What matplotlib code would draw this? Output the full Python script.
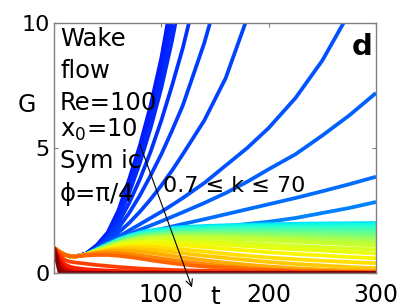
import numpy as np
import matplotlib.pyplot as plt

nan = np.nan

# time samples (same for every curve)
t = [0, 5, 10, 15, 20, 30, 40, 50, 60, 70, 80, 90, 100, 110, 120, 140, 160, 180, 200, 225, 250, 275, 300]

# growing (blue) curves, smallest k first
k_blue = [0.7, 0.72, 0.74, 0.77, 0.8, 0.84, 0.89, 0.95, 1.02, 1.1, 1.22]
G_blue = [
    [1.0, 0.85, 0.73, 0.67, 0.66, 0.78, 1.12, 1.62, 2.5, 3.75, 5.1, 6.7, 8.6, 11.0, nan, nan, nan, nan, nan, nan, nan, nan, nan],
    [1.0, 0.85, 0.73, 0.67, 0.66, 0.77, 1.10, 1.57, 2.4, 3.55, 4.85, 6.4, 8.2, 10.5, nan, nan, nan, nan, nan, nan, nan, nan, nan],
    [1.0, 0.85, 0.73, 0.67, 0.66, 0.77, 1.08, 1.52, 2.3, 3.4, 4.6, 6.0, 7.8, 10.0, 12.5, nan, nan, nan, nan, nan, nan, nan, nan],
    [1.0, 0.85, 0.73, 0.67, 0.66, 0.76, 1.06, 1.48, 2.2, 3.2, 4.4, 5.8, 7.4, 9.3, 11.5, nan, nan, nan, nan, nan, nan, nan, nan],
    [1.0, 0.85, 0.73, 0.67, 0.66, 0.76, 1.04, 1.42, 2.0, 2.8, 3.75, 4.85, 6.1, 7.5, 9.0, 12.5, nan, nan, nan, nan, nan, nan, nan],
    [1.0, 0.85, 0.73, 0.67, 0.66, 0.75, 1.02, 1.36, 1.8, 2.4, 3.1, 3.9, 4.75, 5.7, 6.7, 9.2, 12.2, nan, nan, nan, nan, nan, nan],
    [1.0, 0.85, 0.73, 0.67, 0.66, 0.75, 1.00, 1.30, 1.62, 2.0, 2.45, 2.95, 3.5, 4.1, 4.75, 6.1, 7.8, 10.2, 13.0, nan, nan, nan, nan],
    [1.0, 0.85, 0.73, 0.67, 0.66, 0.75, 0.98, 1.24, 1.45, 1.7, 1.95, 2.2, 2.45, 2.72, 3.0, 3.6, 4.3, 5.0, 5.8, 7.0, 8.5, 10.4, 12.6],
    [1.0, 0.85, 0.73, 0.67, 0.66, 0.74, 0.97, 1.20, 1.38, 1.56, 1.73, 1.9, 2.07, 2.25, 2.43, 2.8, 3.2, 3.65, 4.15, 4.75, 5.5, 6.3, 7.2],
    [1.0, 0.85, 0.73, 0.67, 0.66, 0.74, 0.96, 1.17, 1.32, 1.45, 1.56, 1.66, 1.76, 1.86, 1.96, 2.15, 2.35, 2.55, 2.75, 3.0, 3.27, 3.55, 3.85],
    [1.0, 0.85, 0.73, 0.67, 0.66, 0.74, 0.95, 1.15, 1.28, 1.37, 1.45, 1.51, 1.57, 1.62, 1.67, 1.77, 1.87, 1.96, 2.05, 2.2, 2.4, 2.6, 2.84],
]

# nearly flat band (cyan -> yellow-green)
k_band = [2.0, 2.3, 2.6, 2.9, 3.2, 3.6, 4.0, 4.4, 4.9, 5.4, 5.9, 6.5, 7.1, 7.7]
G_band = [
    [1.0, 0.85, 0.73, 0.67, 0.66, 0.74, 0.95, 1.15, 1.35, 1.50, 1.62, 1.70, 1.76, 1.80, 1.84, 1.88, 1.91, 1.93, 1.95, 1.97, 1.98, 1.99, 2.00],
    [1.0, 0.85, 0.73, 0.67, 0.66, 0.74, 0.94, 1.14, 1.33, 1.48, 1.59, 1.67, 1.72, 1.76, 1.79, 1.83, 1.86, 1.88, 1.89, 1.91, 1.92, 1.93, 1.93],
    [1.0, 0.85, 0.73, 0.67, 0.66, 0.74, 0.94, 1.13, 1.31, 1.46, 1.56, 1.63, 1.68, 1.72, 1.75, 1.78, 1.80, 1.82, 1.83, 1.84, 1.85, 1.86, 1.86],
    [1.0, 0.85, 0.73, 0.67, 0.66, 0.74, 0.93, 1.12, 1.30, 1.44, 1.53, 1.60, 1.65, 1.68, 1.71, 1.74, 1.76, 1.77, 1.78, 1.79, 1.79, 1.79, 1.79],
    [1.0, 0.85, 0.73, 0.67, 0.66, 0.74, 0.93, 1.11, 1.28, 1.42, 1.51, 1.57, 1.62, 1.65, 1.67, 1.70, 1.72, 1.73, 1.73, 1.73, 1.73, 1.72, 1.72],
    [1.0, 0.85, 0.73, 0.67, 0.66, 0.74, 0.92, 1.10, 1.27, 1.40, 1.49, 1.55, 1.59, 1.62, 1.64, 1.66, 1.68, 1.68, 1.68, 1.68, 1.67, 1.66, 1.65],
    [1.0, 0.85, 0.73, 0.67, 0.66, 0.74, 0.92, 1.09, 1.25, 1.38, 1.47, 1.53, 1.56, 1.59, 1.61, 1.63, 1.63, 1.63, 1.63, 1.62, 1.61, 1.60, 1.58],
    [1.0, 0.85, 0.73, 0.67, 0.66, 0.74, 0.91, 1.08, 1.24, 1.36, 1.45, 1.50, 1.54, 1.56, 1.58, 1.59, 1.59, 1.59, 1.58, 1.57, 1.55, 1.53, 1.51],
    [1.0, 0.85, 0.73, 0.67, 0.66, 0.74, 0.91, 1.07, 1.22, 1.34, 1.43, 1.48, 1.51, 1.53, 1.55, 1.56, 1.55, 1.54, 1.53, 1.51, 1.49, 1.47, 1.44],
    [1.0, 0.85, 0.73, 0.67, 0.66, 0.74, 0.90, 1.06, 1.21, 1.33, 1.41, 1.46, 1.49, 1.51, 1.52, 1.52, 1.51, 1.50, 1.48, 1.46, 1.43, 1.40, 1.37],
    [1.0, 0.85, 0.73, 0.67, 0.66, 0.74, 0.90, 1.05, 1.20, 1.31, 1.39, 1.44, 1.47, 1.48, 1.49, 1.49, 1.48, 1.46, 1.44, 1.41, 1.37, 1.34, 1.30],
    [1.0, 0.85, 0.73, 0.67, 0.66, 0.74, 0.89, 1.04, 1.18, 1.29, 1.37, 1.42, 1.45, 1.46, 1.46, 1.46, 1.44, 1.42, 1.39, 1.35, 1.31, 1.27, 1.23],
    [1.0, 0.85, 0.73, 0.67, 0.66, 0.74, 0.89, 1.03, 1.17, 1.28, 1.35, 1.40, 1.42, 1.43, 1.43, 1.42, 1.40, 1.37, 1.34, 1.30, 1.25, 1.21, 1.16],
    [1.0, 0.85, 0.73, 0.67, 0.66, 0.74, 0.88, 1.02, 1.16, 1.26, 1.33, 1.38, 1.40, 1.41, 1.41, 1.39, 1.37, 1.34, 1.30, 1.25, 1.20, 1.15, 1.09],
]

# slowly decaying (yellow / orange)
k_decay = [8.5, 9.5, 10.5, 12, 13.5, 16, 20, 24]
G_decay = [
    [1.0, 0.85, 0.73, 0.67, 0.66, 0.74, 0.87, 1.00, 1.13, 1.22, 1.28, 1.31, 1.32, 1.32, 1.31, 1.28, 1.24, 1.19, 1.14, 1.08, 1.03, 0.98, 0.94],
    [1.0, 0.85, 0.73, 0.67, 0.66, 0.74, 0.86, 0.98, 1.10, 1.18, 1.23, 1.25, 1.25, 1.24, 1.22, 1.18, 1.13, 1.07, 1.01, 0.95, 0.90, 0.84, 0.78],
    [1.0, 0.85, 0.73, 0.67, 0.66, 0.74, 0.85, 0.96, 1.06, 1.12, 1.15, 1.16, 1.15, 1.13, 1.10, 1.04, 0.97, 0.90, 0.83, 0.76, 0.70, 0.64, 0.59],
    [1.0, 0.85, 0.73, 0.67, 0.66, 0.74, 0.84, 0.93, 1.01, 1.05, 1.06, 1.05, 1.02, 0.98, 0.94, 0.86, 0.77, 0.69, 0.62, 0.55, 0.49, 0.44, 0.39],
    [1.0, 0.85, 0.73, 0.67, 0.66, 0.74, 0.83, 0.90, 0.95, 0.97, 0.96, 0.93, 0.89, 0.84, 0.79, 0.69, 0.60, 0.52, 0.44, 0.36, 0.30, 0.24, 0.19],
    [1.0, 0.85, 0.73, 0.67, 0.66, 0.74, 0.82, 0.87, 0.89, 0.88, 0.85, 0.80, 0.74, 0.68, 0.62, 0.51, 0.41, 0.33, 0.26, 0.19, 0.14, 0.10, 0.08],
    [1.0, 0.85, 0.73, 0.67, 0.66, 0.73, 0.78, 0.80, 0.79, 0.75, 0.70, 0.64, 0.58, 0.52, 0.46, 0.36, 0.27, 0.20, 0.15, 0.10, 0.07, 0.05, 0.04],
    [1.0, 0.85, 0.73, 0.67, 0.66, 0.70, 0.72, 0.72, 0.69, 0.64, 0.58, 0.51, 0.45, 0.39, 0.34, 0.26, 0.20, 0.15, 0.11, 0.08, 0.06, 0.04, 0.03],
]

# fast decaying (red)
k_red = [30, 36, 43, 51, 60, 70]
G_red = [
    [1.0, 0.75, 0.52, 0.45, 0.42, 0.37, 0.32, 0.28, 0.24, 0.21, 0.18, 0.16, 0.14, 0.12, 0.11, 0.09, 0.07, 0.06, 0.05, 0.04, 0.03, 0.03, 0.02],
    [1.0, 0.60, 0.35, 0.25, 0.20, 0.15, 0.12, 0.10, 0.08, 0.07, 0.06, 0.05, 0.04, 0.03, 0.03, 0.02, 0.02, 0.01, 0.01, 0.01, 0.01, 0.0, 0.0],
    [1.0, 0.45, 0.20, 0.10, 0.06, 0.03, 0.02, 0.01, 0.01, 0.0, 0.0, 0.0, 0.0, 0.0, 0.0, 0.0, 0.0, 0.0, 0.0, 0.0, 0.0, 0.0, 0.0],
    [1.0, 0.30, 0.08, 0.03, 0.01, 0.0, 0.0, 0.0, 0.0, 0.0, 0.0, 0.0, 0.0, 0.0, 0.0, 0.0, 0.0, 0.0, 0.0, 0.0, 0.0, 0.0, 0.0],
    [1.0, 0.15, 0.02, 0.0, 0.0, 0.0, 0.0, 0.0, 0.0, 0.0, 0.0, 0.0, 0.0, 0.0, 0.0, 0.0, 0.0, 0.0, 0.0, 0.0, 0.0, 0.0, 0.0],
    [1.0, 0.05, 0.0, 0.0, 0.0, 0.0, 0.0, 0.0, 0.0, 0.0, 0.0, 0.0, 0.0, 0.0, 0.0, 0.0, 0.0, 0.0, 0.0, 0.0, 0.0, 0.0, 0.0],
]

info_lines = ["Wake", "flow", "Re=100", r"x$_0$=10", "Sym ic", "ϕ=π/4"]

fig = plt.figure(figsize=(4.15, 3.08), dpi=100)
ax = fig.add_axes([54 / 415, 35 / 308, 322 / 415, 250 / 308])

jet = plt.get_cmap('jet')
k_all = k_blue + k_band + k_decay + k_red
G_all = G_blue + G_band + G_decay + G_red
for k, G in zip(k_all, G_all):
    pos = 0.15 + 0.85 * np.log(k / 0.7) / np.log(100)
    ax.plot(t, G, color=jet(pos), lw=2.7, solid_capstyle='butt')

ax.set_xlim(0, 300)
ax.set_ylim(0, 10)
ax.set_xticks([100, 200, 300])
ax.set_yticks([0, 5, 10])
ax.tick_params(direction='in', length=3, color='#808080', top=True, right=True)
ax.tick_params(axis='y', labelsize=16, pad=3)
ax.tick_params(axis='x', labelsize=17, pad=7)
for s in ax.spines.values():
    s.set_color('#808080')
    s.set_linewidth(1.0)

# text block at left
baselines = [9.08, 7.8, 6.52, 5.44, 4.2, 2.88]
for txt, yb in zip(info_lines, baselines):
    ax.text(5.6, yb, txt, fontsize=17.5, va='baseline', ha='left')

ax.text(101.5, 3.24, "0.7 ≤ k ≤ 70", fontsize=16, va='baseline', ha='left')
ax.text(297, 8.72, "d", fontsize=21, fontweight='bold', va='baseline', ha='right')

ax.annotate('', xy=(129.4, -0.68), xytext=(79.2, 5.24),
            arrowprops=dict(arrowstyle='->', lw=0.8, color='k', mutation_scale=12),
            annotation_clip=False, zorder=10)

fig.text(27 / 415, (308 - 105) / 308, "G", fontsize=17, ha='center', va='center')
fig.text(215 / 415, (308 - 297) / 308, "t", fontsize=18, ha='center', va='center')

fig.savefig('out.png', dpi=100)
